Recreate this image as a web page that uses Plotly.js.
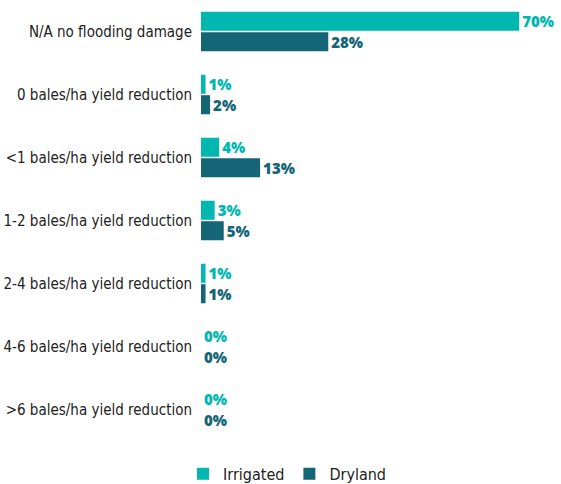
<!DOCTYPE html>
<html><head><meta charset="utf-8">
<script src="https://cdn.plot.ly/plotly-3.0.1.min.js"></script>
<style>html,body{margin:0;padding:0;background:#fff;}#chart{width:561px;height:484px;}</style>
</head><body><div id="chart"></div>
<script>
const categories = [
  "N/A no flooding damage",
  "0 bales/ha yield reduction",
  "<1 bales/ha yield reduction",
  "1-2 bales/ha yield reduction",
  "2-4 bales/ha yield reduction",
  "4-6 bales/ha yield reduction",
  ">6 bales/ha yield reduction"
];
const irrigated = [70, 1, 4, 3, 1, 0, 0];
const dryland = [28, 2, 13, 5, 1, 0, 0];

const cIrr = "#00b8b0";
const cDry = "#146676";
const labelFont = "'DejaVu Sans Condensed', sans-serif";
const valueFont = "'Open Sans', sans-serif";

const traces = [
  {type: "bar", orientation: "h", name: "Irrigated", y: categories, x: irrigated,
   marker: {color: cIrr}, texttemplate: "%{x}%", textposition: "outside", cliponaxis: false,
   constraintext: "none",
   textfont: {family: valueFont, size: 15, color: cIrr, weight: 800}, hoverinfo: "none"},
  {type: "bar", orientation: "h", name: "Dryland", y: categories, x: dryland,
   marker: {color: cDry}, texttemplate: "%{x}%", textposition: "outside", cliponaxis: false,
   constraintext: "none",
   textfont: {family: valueFont, size: 15, color: cDry, weight: 800}, hoverinfo: "none"}
];

const layout = {
  width: 561, height: 484,
  margin: {l: 201, r: 0, t: 0, b: 43},
  paper_bgcolor: "#fff", plot_bgcolor: "#fff",
  barmode: "group", bargap: 0.35, bargroupgap: 0.07,
  showlegend: true,
  legend: {orientation: "h", xref: "paper", x: -0.05, xanchor: "left",
           yref: "container", y: 0.021, yanchor: "middle",
           font: {family: labelFont, size: 16, color: "#222"}, itemwidth: 30, tracegroupgap: 0},
  xaxis: {range: [0, 79.2], showgrid: false, zeroline: false, showticklabels: false, showline: false, ticks: ""},
  yaxis: {autorange: "reversed", showgrid: false, zeroline: false, showline: false, ticks: "",
          ticklabelstandoff: 8,
          tickfont: {family: labelFont, size: 15, color: "#222"}}
};
Plotly.newPlot("chart", traces, layout, {displayModeBar: false, staticPlot: true});
</script></body></html>
